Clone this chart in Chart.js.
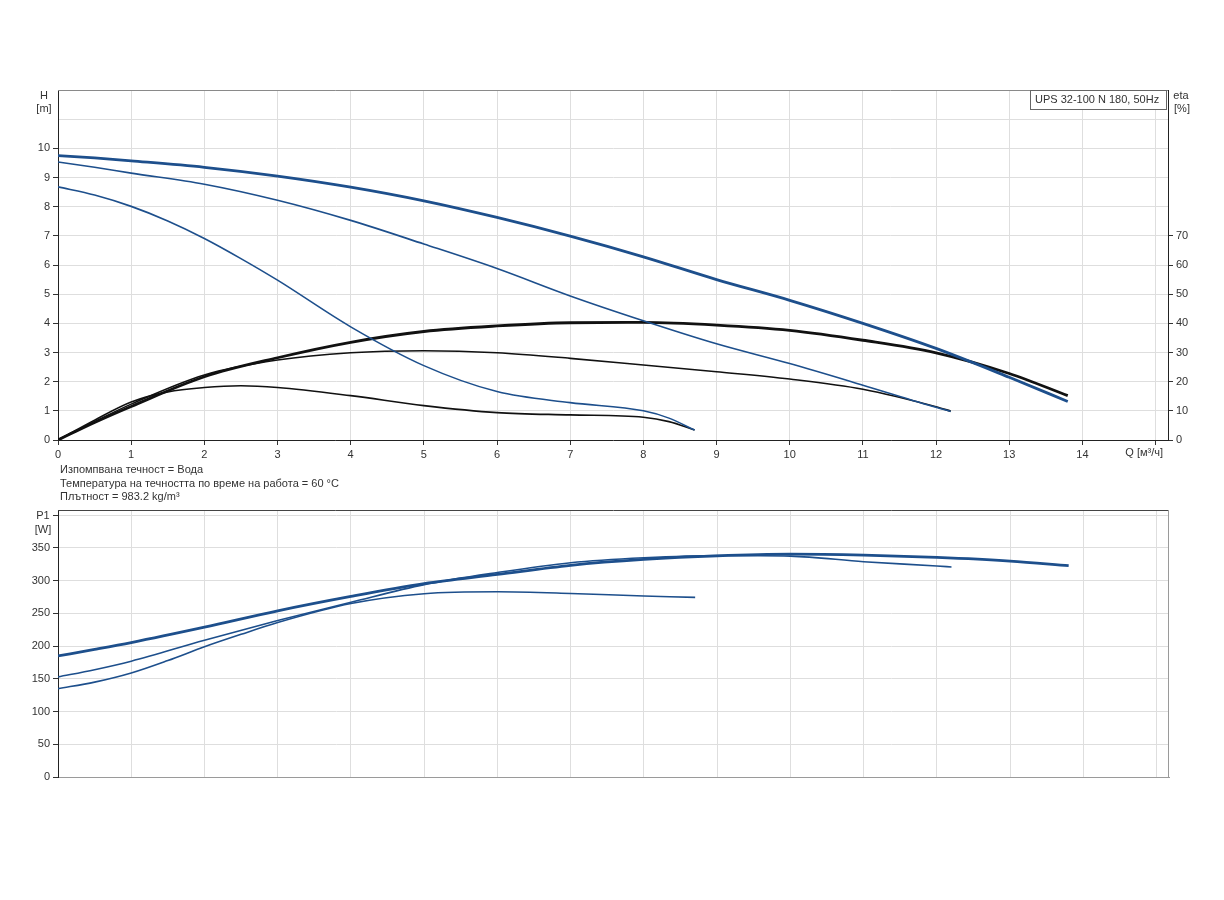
<!DOCTYPE html>
<html>
<head>
<meta charset="utf-8">
<script src="https://cdn.jsdelivr.net/npm/chart.js@4"></script>
<style>
  body { margin: 0; background: #fff; }
  canvas { position: absolute; left: 0; }
  #qhChart { top: 0; }
  #powerChart { top: 505px; }
</style>
</head>
<body>
<canvas id="qhChart" width="1224" height="505"></canvas>
<canvas id="powerChart" width="1224" height="295"></canvas>
<script>
// Flow points Q [m³/h] for each speed curve
const qSpeed3 = [0, 0.5, 1, 2, 3, 4, 5, 6, 7, 8, 9, 10, 11, 12, 13, 13.8];
const qSpeed2 = [0, 0.5, 1, 2, 3, 4, 5, 6, 7, 8, 9, 10, 11, 12, 12.2];
const qSpeed1 = [0, 0.5, 1, 1.5, 2, 2.5, 3, 4, 5, 6, 7, 8, 8.35, 8.7];

// Head H [m]
const headSpeed3 = [9.75, 9.67, 9.57, 9.35, 9.05, 8.67, 8.2, 7.63, 6.99, 6.28, 5.5, 4.79, 4.0, 3.14, 2.15, 1.32];
const headSpeed2 = [9.53, 9.35, 9.15, 8.77, 8.22, 7.53, 6.72, 5.88, 4.94, 4.09, 3.3, 2.62, 1.88, 1.12, 0.98];
const headSpeed1 = [8.68, 8.4, 8.01, 7.51, 6.91, 6.22, 5.48, 3.88, 2.55, 1.66, 1.28, 1.0, 0.75, 0.34];

// Efficiency eta [%]
const etaSpeed3 = [0, 6.0, 11.5, 21.7, 28.2, 33.5, 37.2, 39.1, 40.2, 40.3, 39.4, 37.6, 34.2, 29.9, 22.8, 15.2];
const etaSpeed2 = [0, 6.3, 12.3, 22.3, 27.4, 29.9, 30.6, 29.9, 28.0, 25.7, 23.4, 20.9, 17.4, 11.4, 9.9];
const etaSpeed1 = [0, 6.8, 13.0, 16.5, 18.0, 18.6, 18.0, 15.2, 11.8, 9.4, 8.6, 7.8, 6.3, 3.4];

// Power input P1 [W]
const powerSpeed3 = [185, 195, 205.5, 229, 254, 276, 295.5, 309.5, 323.5, 332.5, 338, 340.5, 339, 335.5, 330, 323];
const powerSpeed2 = [153, 164, 177, 209, 239, 267, 294, 312.5, 327.5, 335, 338.5, 337.5, 329, 322.5, 321];
const powerSpeed1 = [135, 145, 159, 178, 199, 218, 236, 265, 280, 283, 280.5, 276.5, 275.5, 274.5];

const infoLines = [
    'Изпомпвана течност = Вода',
    'Температура на течността по време на работа = 60 °C',
    'Плътност = 983.2 kg/m³'
];
const pumpName = 'UPS 32-100 N 180, 50Hz';

const BLUE = '#1d4f8c';
const BLACK = '#111111';
const GRID = '#dedede';
const TEXT = '#333333';

Chart.defaults.font.family = '"Liberation Sans", Arial, sans-serif';
Chart.defaults.font.size = 11;
Chart.defaults.color = TEXT;

const pts = (xs, ys) => xs.map((x, i) => ({ x: x, y: ys[i] }));

function curve(data, color, width, axis) {
    return {
        data: data,
        borderColor: color,
        borderWidth: width,
        pointRadius: 0,
        fill: false,
        showLine: true,
        cubicInterpolationMode: 'monotone',
        yAxisID: axis
    };
}

const hideTick = (limit) => (ctx) => (ctx.tick && ctx.tick.value <= limit) ? TEXT : 'rgba(0,0,0,0)';

// Texts and frame pieces for the upper chart
const qhDecor = {
    id: 'qhDecor',
    afterDraw(chart) {
        const c = chart.ctx;
        const a = chart.chartArea;
        c.save();
        c.strokeStyle = '#8a8a8a';
        c.lineWidth = 1;
        c.beginPath();
        c.moveTo(a.left, a.top + 0.5);
        c.lineTo(a.right, a.top + 0.5);
        c.stroke();

        c.fillStyle = TEXT;
        c.font = '11px "Liberation Sans", Arial, sans-serif';
        c.textAlign = 'center';
        c.textBaseline = 'middle';
        c.fillText('H', 44, 96);
        c.fillText('[m]', 44, 109);
        c.fillText('eta', 1181, 96);
        c.fillText('[%]', 1182, 109);

        c.textAlign = 'right';
        c.fillText('Q [м³/ч]', 1163, 453);

        // pump name box
        c.fillStyle = '#fff';
        c.fillRect(1030, a.top, 136, 19);
        c.strokeStyle = '#666';
        c.strokeRect(1030.5, a.top + 0.5, 136, 19);
        c.fillStyle = TEXT;
        c.textAlign = 'left';
        c.fillText(pumpName, 1035, a.top + 10);

        infoLines.forEach((t, i) => c.fillText(t, 60, 470 + i * 13.7));
        c.restore();
    }
};

const powerDecor = {
    id: 'powerDecor',
    afterDraw(chart) {
        const c = chart.ctx;
        const a = chart.chartArea;
        c.save();
        c.lineWidth = 1;
        c.strokeStyle = '#444';
        c.beginPath();
        c.moveTo(a.left, a.top + 0.5);
        c.lineTo(a.right, a.top + 0.5);
        c.stroke();
        c.strokeStyle = '#9a9a9a';
        c.beginPath();
        c.moveTo(a.right - 0.5, a.top);
        c.lineTo(a.right - 0.5, a.bottom);
        c.stroke();

        c.fillStyle = TEXT;
        c.font = '11px "Liberation Sans", Arial, sans-serif';
        c.textAlign = 'center';
        c.textBaseline = 'middle';
        c.fillText('P1', 43, 11);
        c.fillText('[W]', 43, 25);
        c.restore();
    }
};

document.addEventListener('DOMContentLoaded', () => {
    new Chart(document.getElementById('qhChart').getContext('2d'), {
        type: 'scatter',
        data: {
            datasets: [
                curve(pts(qSpeed1, headSpeed1), BLUE, 1.6, 'y'),
                curve(pts(qSpeed2, headSpeed2), BLUE, 1.6, 'y'),
                curve(pts(qSpeed3, headSpeed3), BLUE, 2.8, 'y'),
                curve(pts(qSpeed1, etaSpeed1), BLACK, 1.6, 'y2'),
                curve(pts(qSpeed2, etaSpeed2), BLACK, 1.6, 'y2'),
                curve(pts(qSpeed3, etaSpeed3), BLACK, 2.8, 'y2')
            ]
        },
        options: {
            responsive: false,
            animation: false,
            devicePixelRatio: 1,
            layout: { padding: { top: 90, left: 0, right: 0, bottom: 0 } },
            plugins: { legend: { display: false }, tooltip: { enabled: false } },
            scales: {
                x: {
                    type: 'linear', min: 0, max: 15.17,
                    ticks: { stepSize: 1, includeBounds: false, autoSkip: false, maxRotation: 0,
                             callback: v => v === 15 ? '' : v },
                    grid: { color: GRID, tickColor: TEXT, tickLength: 5 },
                    border: { color: '#222' },
                    afterFit: s => { s.height = 65; }
                },
                y: {
                    position: 'left', min: 0, max: 12,
                    ticks: { stepSize: 1, includeBounds: false, callback: v => v <= 10 ? v : '' },
                    grid: { color: GRID, tickColor: hideTick(10), tickLength: 5 },
                    border: { color: '#222' },
                    afterFit: s => { s.width = 58; }
                },
                y2: {
                    position: 'right', min: 0, max: 120,
                    ticks: { stepSize: 10, includeBounds: false, callback: v => v <= 70 ? v : '' },
                    grid: { drawOnChartArea: false, tickColor: hideTick(70), tickLength: 5 },
                    border: { color: '#222' },
                    afterFit: s => { s.width = 56; }
                }
            }
        },
        plugins: [qhDecor]
    });

    new Chart(document.getElementById('powerChart').getContext('2d'), {
        type: 'scatter',
        data: {
            datasets: [
                curve(pts(qSpeed1, powerSpeed1), BLUE, 1.6, 'y'),
                curve(pts(qSpeed2, powerSpeed2), BLUE, 1.6, 'y'),
                curve(pts(qSpeed3, powerSpeed3), BLUE, 2.8, 'y')
            ]
        },
        options: {
            responsive: false,
            animation: false,
            devicePixelRatio: 1,
            layout: { padding: { top: 5, left: 0, right: 55, bottom: 0 } },
            plugins: { legend: { display: false }, tooltip: { enabled: false } },
            scales: {
                x: {
                    type: 'linear', min: 0, max: 15.17,
                    ticks: { display: false, stepSize: 1, includeBounds: false },
                    grid: { color: GRID, drawTicks: false },
                    border: { color: '#9a9a9a' },
                    afterFit: s => { s.height = 23; }
                },
                y: {
                    position: 'left', min: 0, max: 408,
                    ticks: { stepSize: 50, includeBounds: false, callback: v => v <= 350 ? v : '' },
                    grid: { color: GRID, tickColor: TEXT, tickLength: 5 },
                    border: { color: '#222' },
                    afterFit: s => { s.width = 58; s.paddingTop = 0; s.paddingBottom = 0; }
                }
            }
        },
        plugins: [powerDecor]
    });
});
</script>
</body>
</html>
